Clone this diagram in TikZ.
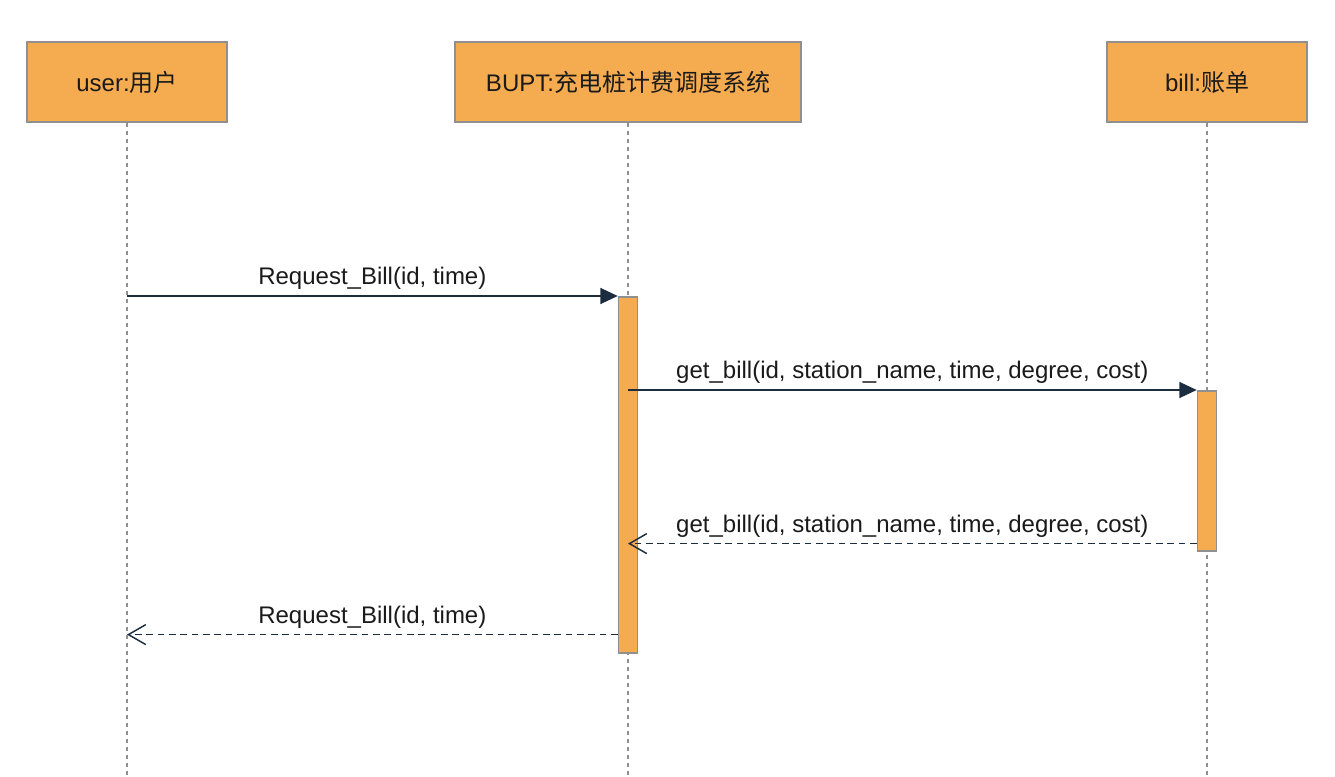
\documentclass[tikz,border=0pt]{standalone}
\usepackage{fontspec}
\setmainfont{Liberation Sans}
\newfontfamily\cjk{Noto Sans CJK SC}
\usepackage{xcolor}
\usetikzlibrary{arrows.meta, positioning}

\definecolor{boxfill}{HTML}{F5AB50}
\definecolor{boxline}{HTML}{909090}
\definecolor{msgline}{HTML}{1B2D3E}
\definecolor{txt}{HTML}{1A1A1A}

\begin{document}
\begin{tikzpicture}[
    x=0.75pt, y=-0.75pt,
    font=\fontsize{18}{22}\selectfont, text=txt,
    actor/.style={rectangle, draw=boxline, fill=boxfill, line width=1.2pt, minimum height=60pt, inner sep=0pt},
    lifeline/.style={draw=boxline, line width=1pt, dash pattern=on 3pt off 3pt},
    activation/.style={rectangle, draw=boxline, fill=boxfill, line width=1.2pt, minimum width=14.25pt, inner sep=0pt, anchor=north},
    call/.style={draw=msgline, line width=1.1pt, -{Triangle[length=13pt, width=12pt]}},
    reply/.style={draw=msgline, line width=1.1pt, dash pattern=on 5pt off 3.5pt, -{Straight Barb[length=13pt, width=15pt]}},
    msg/.style={above, inner sep=4pt}
]

\useasboundingbox (0,0) rectangle (1335,777);

% Participants
\node[actor, minimum width=150pt] (user) at (127,82) {user:{\cjk 用户}};
\node[actor, minimum width=259.5pt] (bupt) at (628,82) {BUPT:{\cjk 充电桩计费调度系统}};
\node[actor, minimum width=150pt] (bill) at (1207,82) {bill:{\cjk 账单}};

% Lifelines
\coordinate (userend) at (127,777);
\coordinate (buptend) at (628,777);
\coordinate (billend) at (1207,777);
\draw[lifeline] (user.south) -- (userend);
\draw[lifeline] (bupt.south) -- (buptend);
\draw[lifeline] (bill.south) -- (billend);

% Activations
\node[activation, minimum height=267pt] (buptact) at (628,296) {};
\node[activation, minimum height=120pt] (billact) at (1207,390) {};

% Calls
\draw[call] (user.south |- buptact.north) -- node[msg] {Request\_Bill(id, time)} (buptact.north west);
\draw[call] (bupt.south |- billact.north) -- node[msg] {get\_bill(id, station\_name, time, degree, cost)} (billact.north west);

% Replies
\coordinate (billret) at ([yshift=6pt]billact.south west);
\coordinate (buptret) at ([yshift=14.25pt]buptact.south west);
\draw[reply] (billret) -- node[msg] {get\_bill(id, station\_name, time, degree, cost)} (bupt.south |- billret);
\draw[reply] (buptret) -- node[msg] {Request\_Bill(id, time)} (user.south |- buptret);

\end{tikzpicture}
\end{document}
